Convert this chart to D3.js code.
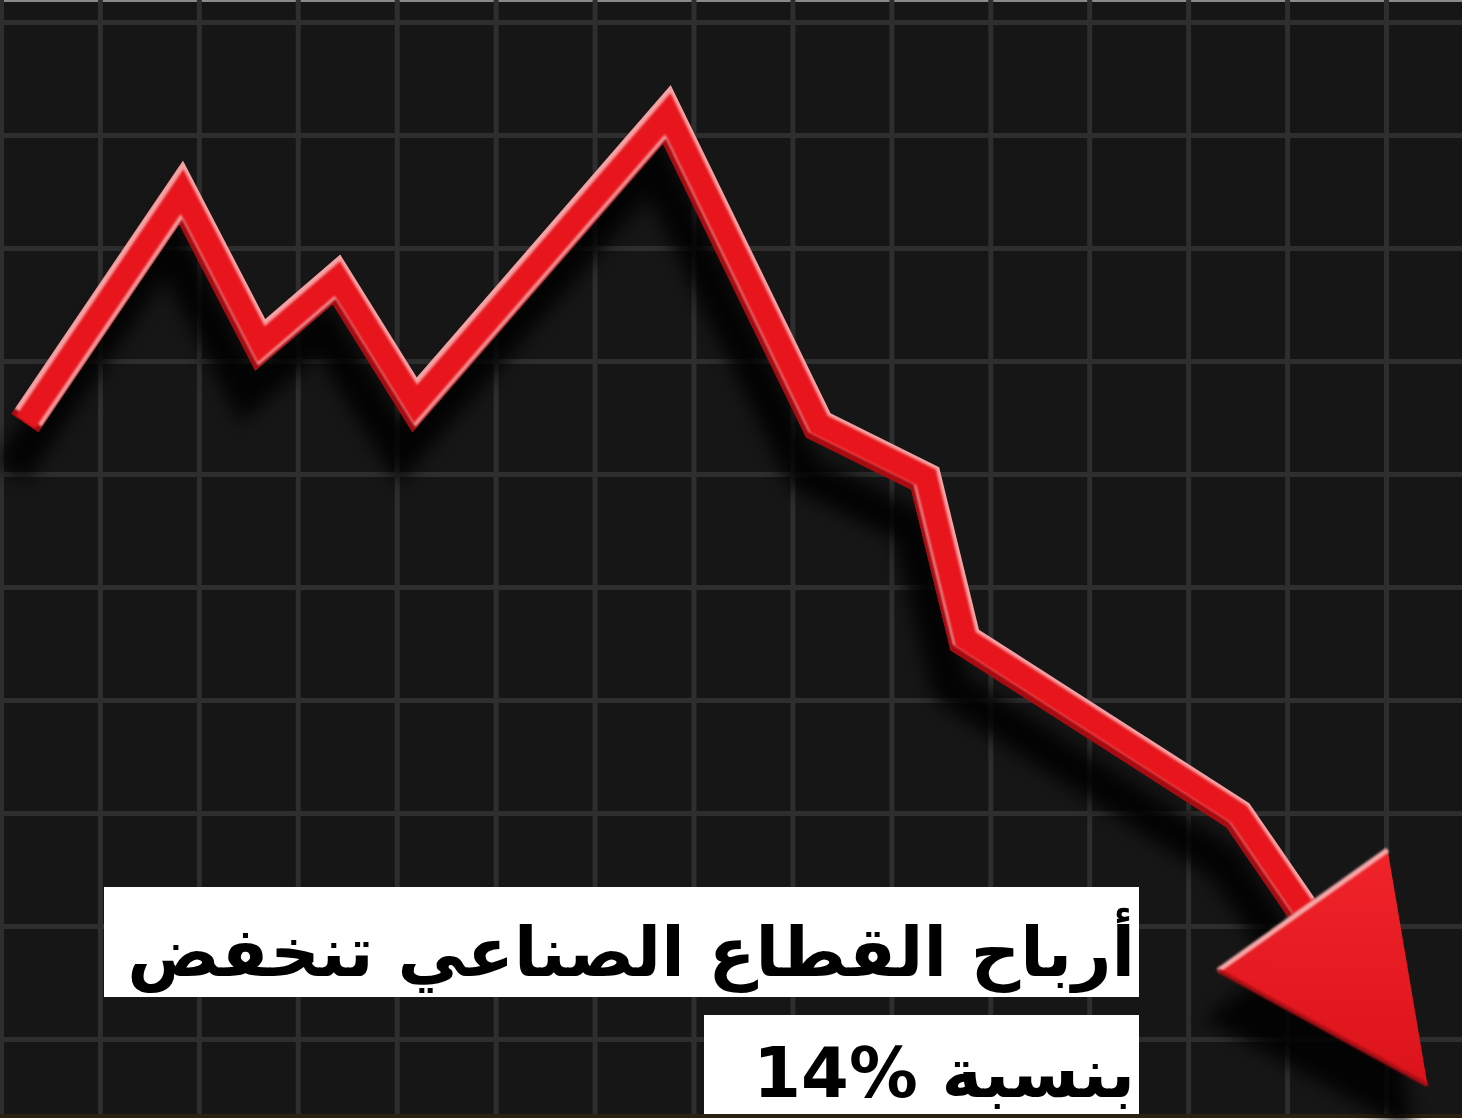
<!DOCTYPE html>
<html>
<head>
<meta charset="utf-8">
<script src="https://cdn.jsdelivr.net/npm/d3@7"></script>
<style>
  html, body { margin: 0; padding: 0; background: #fff; }
  svg { display: block; }
</style>
</head>
<body>
<script>
// grid positions (in grid units)
const xGrid = [0, 1, 2, 3, 4, 5, 6, 7, 8, 9, 10, 11, 12, 13, 14];
const yGrid = [0, 1, 2, 3, 4, 5, 6, 7, 8, 9];

// the red line in grid units
const pointX = [0.24, 1.82, 2.62, 3.39, 4.18, 6.73, 8.26, 9.34, 9.74, 12.50, 13.16];
const pointY = [5.45, 7.49, 6.14, 6.72, 5.61, 8.18, 5.43, 4.96, 3.53, 1.98, 1.14];
const arrowTip = [14.42, -0.41];

// the number is isolated as LTR so it reads "14%" inside the RTL line
const titleLines = ["أرباح القطاع الصناعي تنخفض", "بنسبة \u206614%\u2069"];

const W = 1472, H = 1120;
const plotW = 1462, plotH = 1114;
const lineW = 33;

const svg = d3.select("body").append("svg")
  .attr("width", W)
  .attr("height", H);

const defs = svg.append("defs");

const blur = defs.append("filter").attr("id", "shadowBlur")
  .attr("x", "-20%").attr("y", "-20%").attr("width", "140%").attr("height", "140%");
blur.append("feGaussianBlur").attr("stdDeviation", 9);

const soft = defs.append("filter").attr("id", "soft")
  .attr("x", "-5%").attr("y", "-5%").attr("width", "110%").attr("height", "110%");
soft.append("feGaussianBlur").attr("stdDeviation", 1.2);

const grad = defs.append("linearGradient").attr("id", "arrowGrad")
  .attr("x1", "0").attr("y1", "0").attr("x2", "0").attr("y2", "1");
grad.append("stop").attr("offset", "0%").attr("stop-color", "#f0232a");
grad.append("stop").attr("offset", "100%").attr("stop-color", "#dc131b");

// background
svg.append("rect")
  .attr("width", plotW).attr("height", plotH)
  .attr("fill", "#161616");
svg.append("rect")
  .attr("width", plotW).attr("height", 2)
  .attr("fill", "#8a8a8a");
svg.append("rect")
  .attr("y", plotH).attr("width", plotW).attr("height", 4)
  .attr("fill", "#2b2110");

var x = d3.scaleLinear().domain([0, 14]).range([1, 1386]);
var y = d3.scaleLinear().domain([0, 9]).range([1039, 22]);

// grid
svg.append("g")
  .attr("class", "xgrid")
  .attr("transform", "translate(0," + plotH + ")")
  .call(d3.axisBottom(x).tickValues(xGrid).tickSize(-plotH).tickFormat(""))
  .call(g => g.select(".domain").remove());
svg.append("g")
  .attr("class", "ygrid")
  .call(d3.axisLeft(y).tickValues(yGrid).tickSize(-plotW).tickFormat(""))
  .call(g => g.select(".domain").remove());
svg.selectAll(".xgrid line, .ygrid line")
  .attr("stroke", "#2e2e2e")
  .attr("stroke-width", 5);

const pts = pointX.map((d, i) => [d, pointY[i]]);
const line = d3.line().x(d => x(d[0])).y(d => y(d[1]));

// arrow head geometry
const last = pts[pts.length - 1];
const bx = x(last[0]), by = y(last[1]);
const tx = x(arrowTip[0]), ty = y(arrowTip[1]);
const len = Math.hypot(tx - bx, ty - by);
const ux = (tx - bx) / len, uy = (ty - by) / len;
const nx = uy, ny = -ux;
const half = 104;
const vTop = [bx + half * nx, by + half * ny];
const vLeft = [bx - half * nx, by - half * ny];
const head = [vLeft, vTop, [tx, ty]];

// shadow
const shadow = svg.append("g")
  .attr("transform", "translate(-14,48)")
  .attr("filter", "url(#shadowBlur)")
  .attr("opacity", 0.85);
shadow.append("path").datum(pts)
  .attr("d", line)
  .attr("fill", "none")
  .attr("stroke", "#000")
  .attr("stroke-width", lineW + 4)
  .attr("stroke-linejoin", "miter");
shadow.append("path").datum(head)
  .attr("d", d => "M" + d.join("L") + "Z")
  .attr("fill", "#000");

// mask to keep the bevel layers inside the line
const mask = defs.append("mask").attr("id", "lineMask")
  .attr("maskUnits", "userSpaceOnUse")
  .attr("x", 0).attr("y", 0).attr("width", W).attr("height", H);
mask.append("path").datum(pts)
  .attr("d", line)
  .attr("fill", "none")
  .attr("stroke", "#fff")
  .attr("stroke-width", lineW)
  .attr("stroke-linejoin", "miter")
  .attr("stroke-miterlimit", 10);

const redLine = svg.append("g").attr("mask", "url(#lineMask)");
redLine.append("path").datum(pts)
  .attr("d", line)
  .attr("fill", "none")
  .attr("stroke", "#a50c12")
  .attr("stroke-width", lineW)
  .attr("stroke-linejoin", "miter")
  .attr("stroke-miterlimit", 10);
redLine.append("path").datum(pts)
  .attr("d", line)
  .attr("transform", "translate(3,-6)")
  .attr("fill", "none")
  .attr("stroke", "#f4a2a4")
  .attr("stroke-width", lineW)
  .attr("stroke-linejoin", "miter")
  .attr("stroke-miterlimit", 10)
  .attr("filter", "url(#soft)");
redLine.append("path").datum(pts)
  .attr("d", line)
  .attr("transform", "translate(1,-1)")
  .attr("fill", "none")
  .attr("stroke", "#e8161e")
  .attr("stroke-width", lineW - 10)
  .attr("stroke-linejoin", "miter")
  .attr("stroke-miterlimit", 10)
  .attr("filter", "url(#soft)");

// arrow head
svg.append("path").datum(head)
  .attr("d", d => "M" + d.join("L") + "Z")
  .attr("fill", "url(#arrowGrad)");
svg.append("line")
  .attr("x1", vLeft[0]).attr("y1", vLeft[1])
  .attr("x2", vTop[0]).attr("y2", vTop[1])
  .attr("stroke", "#f5a7a8")
  .attr("stroke-width", 5)
  .attr("filter", "url(#soft)");
svg.append("line")
  .attr("x1", vLeft[0]).attr("y1", vLeft[1])
  .attr("x2", tx).attr("y2", ty)
  .attr("stroke", "#a50c12")
  .attr("stroke-width", 4)
  .attr("filter", "url(#soft)");

// title boxes
const boxes = [
  { x0: 104, x1: 1139, y0: 887, y1: 997, base: 976 },
  { x0: 704, x1: 1139, y0: 1015, y1: 1114, base: 1097 }
];

svg.selectAll(".tbox").data(boxes).enter()
  .append("rect")
  .attr("class", "tbox")
  .attr("x", d => d.x0).attr("y", d => d.y0)
  .attr("width", d => d.x1 - d.x0).attr("height", d => d.y1 - d.y0)
  .attr("fill", "#fff");

const titles = svg.selectAll(".title").data(titleLines).enter()
  .append("text")
  .attr("class", "title")
  .attr("x", 1135)
  .attr("y", (d, i) => boxes[i].base)
  .attr("direction", "rtl")
  .attr("text-anchor", "start")
  .attr("font-family", "'DejaVu Sans', 'Noto Sans', sans-serif")
  .attr("font-weight", "bold")
  .attr("font-size", 90)
  .attr("fill", "#000")
  .text(d => d);

// fit first line to the box width, use the same size on the second
const w0 = titles.nodes()[0].getComputedTextLength();
const fs = 90 * 1008 / w0;
titles.attr("font-size", fs);
</script>
</body>
</html>
